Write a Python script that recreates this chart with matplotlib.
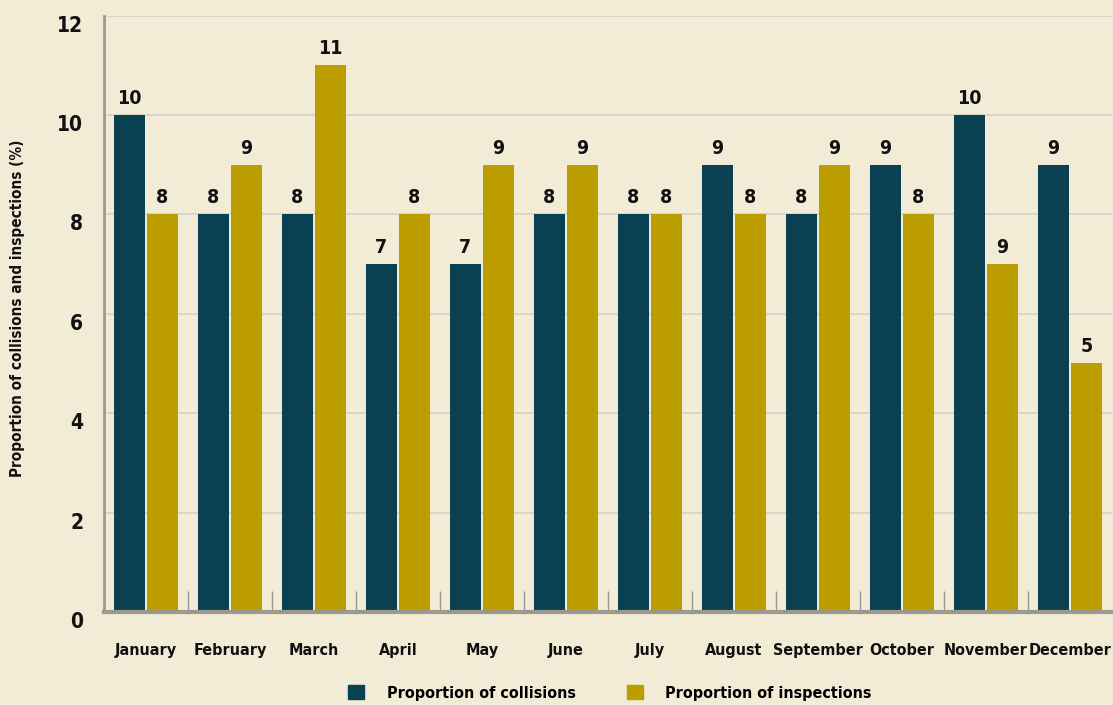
import numpy as np
import matplotlib
matplotlib.use("Agg")
import matplotlib.pyplot as plt
from matplotlib.patches import Patch

plt.rcParams['font.family'] = ['DejaVu Sans']
plt.rcParams['font.stretch'] = 'condensed'

months = ['January', 'February', 'March', 'April', 'May', 'June', 'July',
          'August', 'September', 'October', 'November', 'December']
collisions = [10, 8, 8, 7, 7, 8, 8, 9, 8, 9, 10, 9]
inspections = [8, 9, 11, 8, 9, 9, 8, 8, 9, 8, 7, 5]
# value labels as printed in the source (November label differs from its bar)
collision_labels = ['10', '8', '8', '7', '7', '8', '8', '9', '8', '9', '10', '9']
inspection_labels = ['8', '9', '11', '8', '9', '9', '8', '8', '9', '8', '9', '5']
yticks = [0, 2, 4, 6, 8, 10, 12]

bg = '#F2ECD6'
c_col = '#0A4152'
c_ins = '#BD9E00'
axis_grey = '#9B9A8C'
txt = '#111111'

fig = plt.figure(figsize=(11.13, 7.05), dpi=100, facecolor=bg)
ax = fig.add_axes([104 / 1113, 1 - 612 / 705, 1008 / 1113, (612 - 15.5) / 705])
ax.set_facecolor(bg)

x = np.arange(len(months))
w = 0.37
b1 = ax.bar(x - 0.2, collisions, w, color=c_col, zorder=3)
b2 = ax.bar(x + 0.195, inspections, w, color=c_ins, zorder=3)

for bars, labels in ((b1, collision_labels), (b2, inspection_labels)):
    for rect, lab in zip(bars, labels):
        ax.text(rect.get_x() + rect.get_width() / 2, rect.get_height() + 0.14, lab,
                ha='center', va='bottom', fontsize=14, fontweight='semibold', color=txt)

ax.set_xlim(-0.5, len(months) - 0.5)
ax.set_ylim(0, 12)
ax.set_yticks(yticks)
ax.set_yticklabels([str(v) for v in yticks], fontsize=15, fontweight='semibold', color=txt)
ax.tick_params(axis='y', length=0, pad=15)
for lab in ax.get_yticklabels():
    lab.set_verticalalignment('top')

ax.set_xticks(x)
ax.set_xticklabels(months, fontsize=11.5, fontweight='semibold', color=txt)
ax.tick_params(axis='x', length=0, pad=22)
ax.set_xticks(np.arange(0.5, len(months) - 0.5, 1), minor=True)
ax.tick_params(axis='x', which='minor', direction='in', length=15, width=1, color=axis_grey)

ax.yaxis.grid(True, color='#D8D5CC', linewidth=1.5, zorder=0)
ax.set_axisbelow(True)

for s in ['top', 'right']:
    ax.spines[s].set_visible(False)
ax.spines['left'].set_color(axis_grey)
ax.spines['left'].set_linewidth(2)
ax.spines['bottom'].set_color(axis_grey)
ax.spines['bottom'].set_linewidth(3)
ax.spines['bottom'].set_zorder(4)

fig.text(18 / 1113, 1 - 308 / 705, 'Proportion of collisions and inspections (%)',
         rotation=90, ha='center', va='center', fontsize=11, fontweight='semibold', color=txt)

handles = [Patch(color=c_col, label='Proportion of collisions'),
           Patch(color=c_ins, label='Proportion of inspections')]
fig.legend(handles=handles, loc='center', bbox_to_anchor=(610 / 1113, 1 - 693 / 705),
           ncol=2, frameon=False, prop={'weight': 'semibold', 'size': 11.5, 'stretch': 'condensed'},
           handlelength=1.0, handleheight=1.0, columnspacing=3.2, handletextpad=1.4)

fig.savefig('out.png', dpi=100, facecolor=bg)
